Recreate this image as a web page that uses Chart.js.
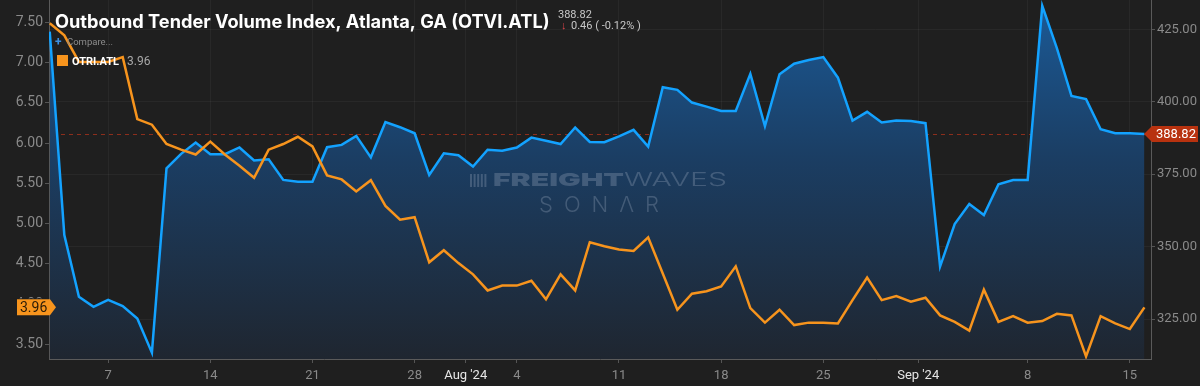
<!DOCTYPE html>
<html>
<head>
<meta charset="utf-8">
<script src="https://cdn.jsdelivr.net/npm/chart.js@4.4.1/dist/chart.umd.min.js"></script>
<style>
  html, body { margin: 0; padding: 0; background: #1f1f1f; }
  canvas { display: block; }
</style>
</head>
<body>
<canvas id="otvi-chart" width="1200" height="386"></canvas>
<script>
// daily values, Jul 3 2024 -> Sep 16 2024
const otvi = [424.2, 354.0, 332.7, 329.2, 331.6, 329.5, 325.2, 313.4, 377.0, 382.0,
  385.9, 381.9, 381.9, 384.2, 379.7, 380.1, 373.0, 372.4, 372.4, 384.3,
  385.1, 388.2, 380.8, 393.0, 391.2, 389.1, 374.7, 382.2, 381.5, 377.6,
  383.4, 383.1, 384.2, 387.6, 386.5, 385.4, 391.1, 386.1, 386.0, 388.0,
  390.3, 384.5, 405.0, 404.1, 399.7, 398.3, 396.8, 396.8, 409.6, 391.6,
  409.5, 413.1, 414.4, 415.4, 408.3, 393.5, 396.5, 392.8, 393.5, 393.3,
  392.6, 343.1, 357.8, 364.7, 360.9, 371.5, 373.0, 373.0, 433.1, 418.5,
  402.0, 400.9, 390.5, 389.1, 389.1, 388.82];
const otri = [7.49, 7.34, 7.01, 7.01, 7.01, 7.07, 6.30, 6.23, 5.99, 5.92,
  5.86, 6.02, 5.86, 5.72, 5.57, 5.92, 5.99, 6.08, 5.96, 5.60,
  5.55, 5.40, 5.54, 5.22, 5.05, 5.08, 4.52, 4.67, 4.51, 4.37,
  4.17, 4.23, 4.23, 4.29, 4.06, 4.37, 4.17, 4.77, 4.72, 4.68,
  4.66, 4.83, 4.38, 3.93, 4.13, 4.16, 4.22, 4.47, 3.95, 3.77,
  3.93, 3.74, 3.77, 3.77, 3.76, 4.05, 4.33, 4.05, 4.10, 4.03,
  4.08, 3.86, 3.78, 3.67, 4.18, 3.78, 3.85, 3.77, 3.79, 3.88,
  3.86, 3.35, 3.85, 3.76, 3.69, 3.96];

// x ticks as day offsets from Jul 3
const tickDays = [4, 11, 18, 25, 28.5, 32, 39, 46, 53, 59.5, 67, 74];
const tickLabels = ['7', '14', '21', '28', "Aug '24", '4', '11', '18', '25', "Sep '24", '8', '15'];
const leftTicks = [3.5, 4, 4.5, 5, 5.5, 6, 6.5, 7, 7.5];
const rightTicks = [325, 350, 375, 400, 425];

const BLUE = '#13a2ff';
const ORANGE = '#f7941d';
const TITLE = 'Outbound Tender Volume Index, Atlanta, GA (OTVI.ATL)';
const lastOtvi = otvi[otvi.length - 1];
const lastOtri = otri[otri.length - 1];

// drop the label overhang padding so the plot touches the top edge
function noPad(s) {
  s.paddingTop = 0;
  s.paddingBottom = 0;
  s.paddingLeft = 0;
  s.paddingRight = 0;
}

const overlay = {
  id: 'overlay',
  beforeDatasetsDraw(chart) {
    const { ctx, chartArea: a } = chart;
    const y = Math.round(chart.scales.yR.getPixelForValue(lastOtvi)) + 0.5;
    ctx.save();
    ctx.strokeStyle = '#8c2e1c';
    ctx.lineWidth = 1;
    ctx.setLineDash([4, 4]);
    ctx.beginPath();
    ctx.moveTo(a.left + 12, y);
    ctx.lineTo(a.right, y);
    ctx.stroke();
    ctx.restore();
  },
  afterDatasetsDraw(chart) {
    // watermark
    const ctx = chart.ctx;
    ctx.save();
    ctx.fillStyle = 'rgba(150,165,185,0.33)';
    for (let k = 0; k < 5; k++) {
      ctx.fillRect(470 + k * 3.6, 174, 2, 13);
    }
    ctx.textBaseline = 'middle';
    ctx.textAlign = 'left';
    ctx.font = '900 18px Inter';
    const w1 = ctx.measureText('FREIGHT').width;
    ctx.font = '300 18px Inter';
    const w2 = ctx.measureText('WAVES').width;
    ctx.save();
    ctx.translate(493, 181);
    ctx.scale(234 / (w1 + w2), 1);
    ctx.font = '900 18px Inter';
    ctx.fillText('FREIGHT', 0, 0);
    ctx.font = '300 18px Inter';
    ctx.fillText('WAVES', w1, 0);
    ctx.restore();
    ctx.font = '300 22px Inter';
    ctx.letterSpacing = '11px';
    ctx.fillText('SON\u039BR', 539, 205);
    ctx.letterSpacing = '0px';
    ctx.restore();
  },
  afterDraw(chart) {
    const ctx = chart.ctx;
    ctx.save();
    ctx.letterSpacing = '0px';
    ctx.textBaseline = 'alphabetic';
    ctx.textAlign = 'left';
    // title, sized to span x 55..550
    ctx.font = 'bold 20px Inter';
    const tw = ctx.measureText(TITLE).width;
    const size = Math.min(22, 20 * 495 / tw);
    ctx.font = 'bold ' + size.toFixed(1) + 'px Inter';
    ctx.fillStyle = '#ffffff';
    ctx.fillText(TITLE, 55, 28);
    ctx.font = '11px Roboto';
    ctx.fillStyle = '#c8c8c8';
    ctx.fillText(lastOtvi.toFixed(2), 558, 18);
    ctx.fillStyle = '#e0454a';
    ctx.fillText('\u2193', 561, 29);
    ctx.fillStyle = '#c8c8c8';
    ctx.fillText('0.46 ( -0.12% )', 571, 29);
    // compare + legend
    ctx.fillStyle = '#3d8fe0';
    ctx.font = 'bold 12px Roboto';
    ctx.fillText('+', 55, 46);
    ctx.fillStyle = '#8c8c8c';
    ctx.font = '9.5px Roboto';
    ctx.fillText('Compare...', 67, 45);
    ctx.fillStyle = ORANGE;
    ctx.fillRect(57, 55, 11, 11);
    ctx.fillStyle = '#ffffff';
    ctx.font = 'bold 11px Roboto';
    ctx.fillText('OTRI.ATL', 72, 65);
    ctx.fillStyle = '#a8a8a8';
    ctx.font = '12px Roboto';
    ctx.fillText(lastOtri.toFixed(2), 127, 65);

    // right value tag
    const yr = chart.scales.yR.getPixelForValue(lastOtvi);
    ctx.fillStyle = '#b8320f';
    ctx.beginPath();
    ctx.moveTo(1144, yr);
    ctx.lineTo(1152, yr - 8);
    ctx.lineTo(1198, yr - 8);
    ctx.lineTo(1198, yr + 8);
    ctx.lineTo(1152, yr + 8);
    ctx.closePath();
    ctx.fill();
    ctx.fillStyle = '#ffffff';
    ctx.font = '13px Roboto';
    ctx.textBaseline = 'middle';
    ctx.fillText(lastOtvi.toFixed(2), 1156, yr + 1);

    // left value tag
    const yl = chart.scales.yL.getPixelForValue(lastOtri);
    ctx.fillStyle = '#1f1f1f';
    ctx.fillRect(10, yl - 9, 36, 18);
    ctx.fillStyle = ORANGE;
    ctx.beginPath();
    ctx.moveTo(17, yl - 8);
    ctx.lineTo(50, yl - 8);
    ctx.lineTo(56, yl);
    ctx.lineTo(50, yl + 8);
    ctx.lineTo(17, yl + 8);
    ctx.closePath();
    ctx.fill();
    ctx.fillStyle = '#2a1b08';
    ctx.font = '14px Roboto';
    ctx.fillText(lastOtri.toFixed(2), 20, yl + 1);
    ctx.restore();
  }
};

const ctx = document.getElementById('otvi-chart').getContext('2d');
const chart = new Chart(ctx, {
  type: 'line',
  data: {
    datasets: [
      {
        label: 'OTRI.ATL',
        data: otri.map((v, i) => ({ x: i, y: v })),
        yAxisID: 'yL',
        borderColor: ORANGE,
        borderWidth: 2.5,
        pointRadius: 0,
        tension: 0,
        fill: false,
        order: 0
      },
      {
        label: 'OTVI.ATL',
        data: otvi.map((v, i) => ({ x: i, y: v })),
        yAxisID: 'yR',
        borderColor: BLUE,
        borderWidth: 2.5,
        pointRadius: 0,
        tension: 0,
        fill: 'start',
        backgroundColor: (c) => {
          const a = c.chart.chartArea;
          if (!a) return 'rgba(28,80,130,0.8)';
          const g = c.chart.ctx.createLinearGradient(0, a.top, 0, a.bottom);
          g.addColorStop(0, '#1b5a97');
          g.addColorStop(0.45, '#1b3d62');
          g.addColorStop(1, '#1f2630');
          return g;
        },
        order: 1
      }
    ]
  },
  options: {
    responsive: false,
    animation: false,
    layout: { padding: 0 },
    plugins: {
      legend: { display: false },
      tooltip: { enabled: false }
    },
    scales: {
      x: {
        type: 'linear',
        min: -0.05,
        max: 75.45,
        afterBuildTicks: (s) => { s.ticks = tickDays.map(v => ({ value: v })); },
        afterFit: (s) => { s.height = 27; noPad(s); },
        ticks: {
          autoSkip: false,
          maxRotation: 0,
          padding: 5,
          font: { family: 'Roboto', size: 13 },
          color: (c) => (c.tick && String(tickLabels[c.index]).includes("'")) ? '#e6e6e6' : '#8a8a8a',
          callback: (v, i) => tickLabels[i]
        },
        grid: { color: 'rgba(255,255,255,0.045)', tickColor: '#555', tickLength: 4 },
        border: { color: '#5a5a5a' }
      },
      yL: {
        type: 'linear',
        position: 'left',
        min: 3.318,
        max: 7.78,
        afterBuildTicks: (s) => { s.ticks = leftTicks.map(v => ({ value: v })); },
        afterFit: (s) => { s.width = 49; noPad(s); },
        ticks: {
          padding: 2,
          font: { family: 'Roboto', size: 14 },
          color: '#8a8a8a',
          callback: (v) => v.toFixed(2)
        },
        grid: { drawOnChartArea: false, tickColor: '#555', tickLength: 4 },
        border: { color: '#5a5a5a' }
      },
      yR: {
        type: 'linear',
        position: 'right',
        min: 311.2,
        max: 435.1,
        afterBuildTicks: (s) => { s.ticks = rightTicks.map(v => ({ value: v })); },
        afterFit: (s) => { s.width = 49; noPad(s); },
        ticks: {
          padding: 2,
          font: { family: 'Roboto', size: 13 },
          color: '#8a8a8a',
          callback: (v) => v.toFixed(2)
        },
        grid: { color: 'rgba(255,255,255,0.045)', tickColor: '#555', tickLength: 4 },
        border: { color: '#5a5a5a' }
      }
    }
  },
  plugins: [overlay]
});
</script>
</body>
</html>
